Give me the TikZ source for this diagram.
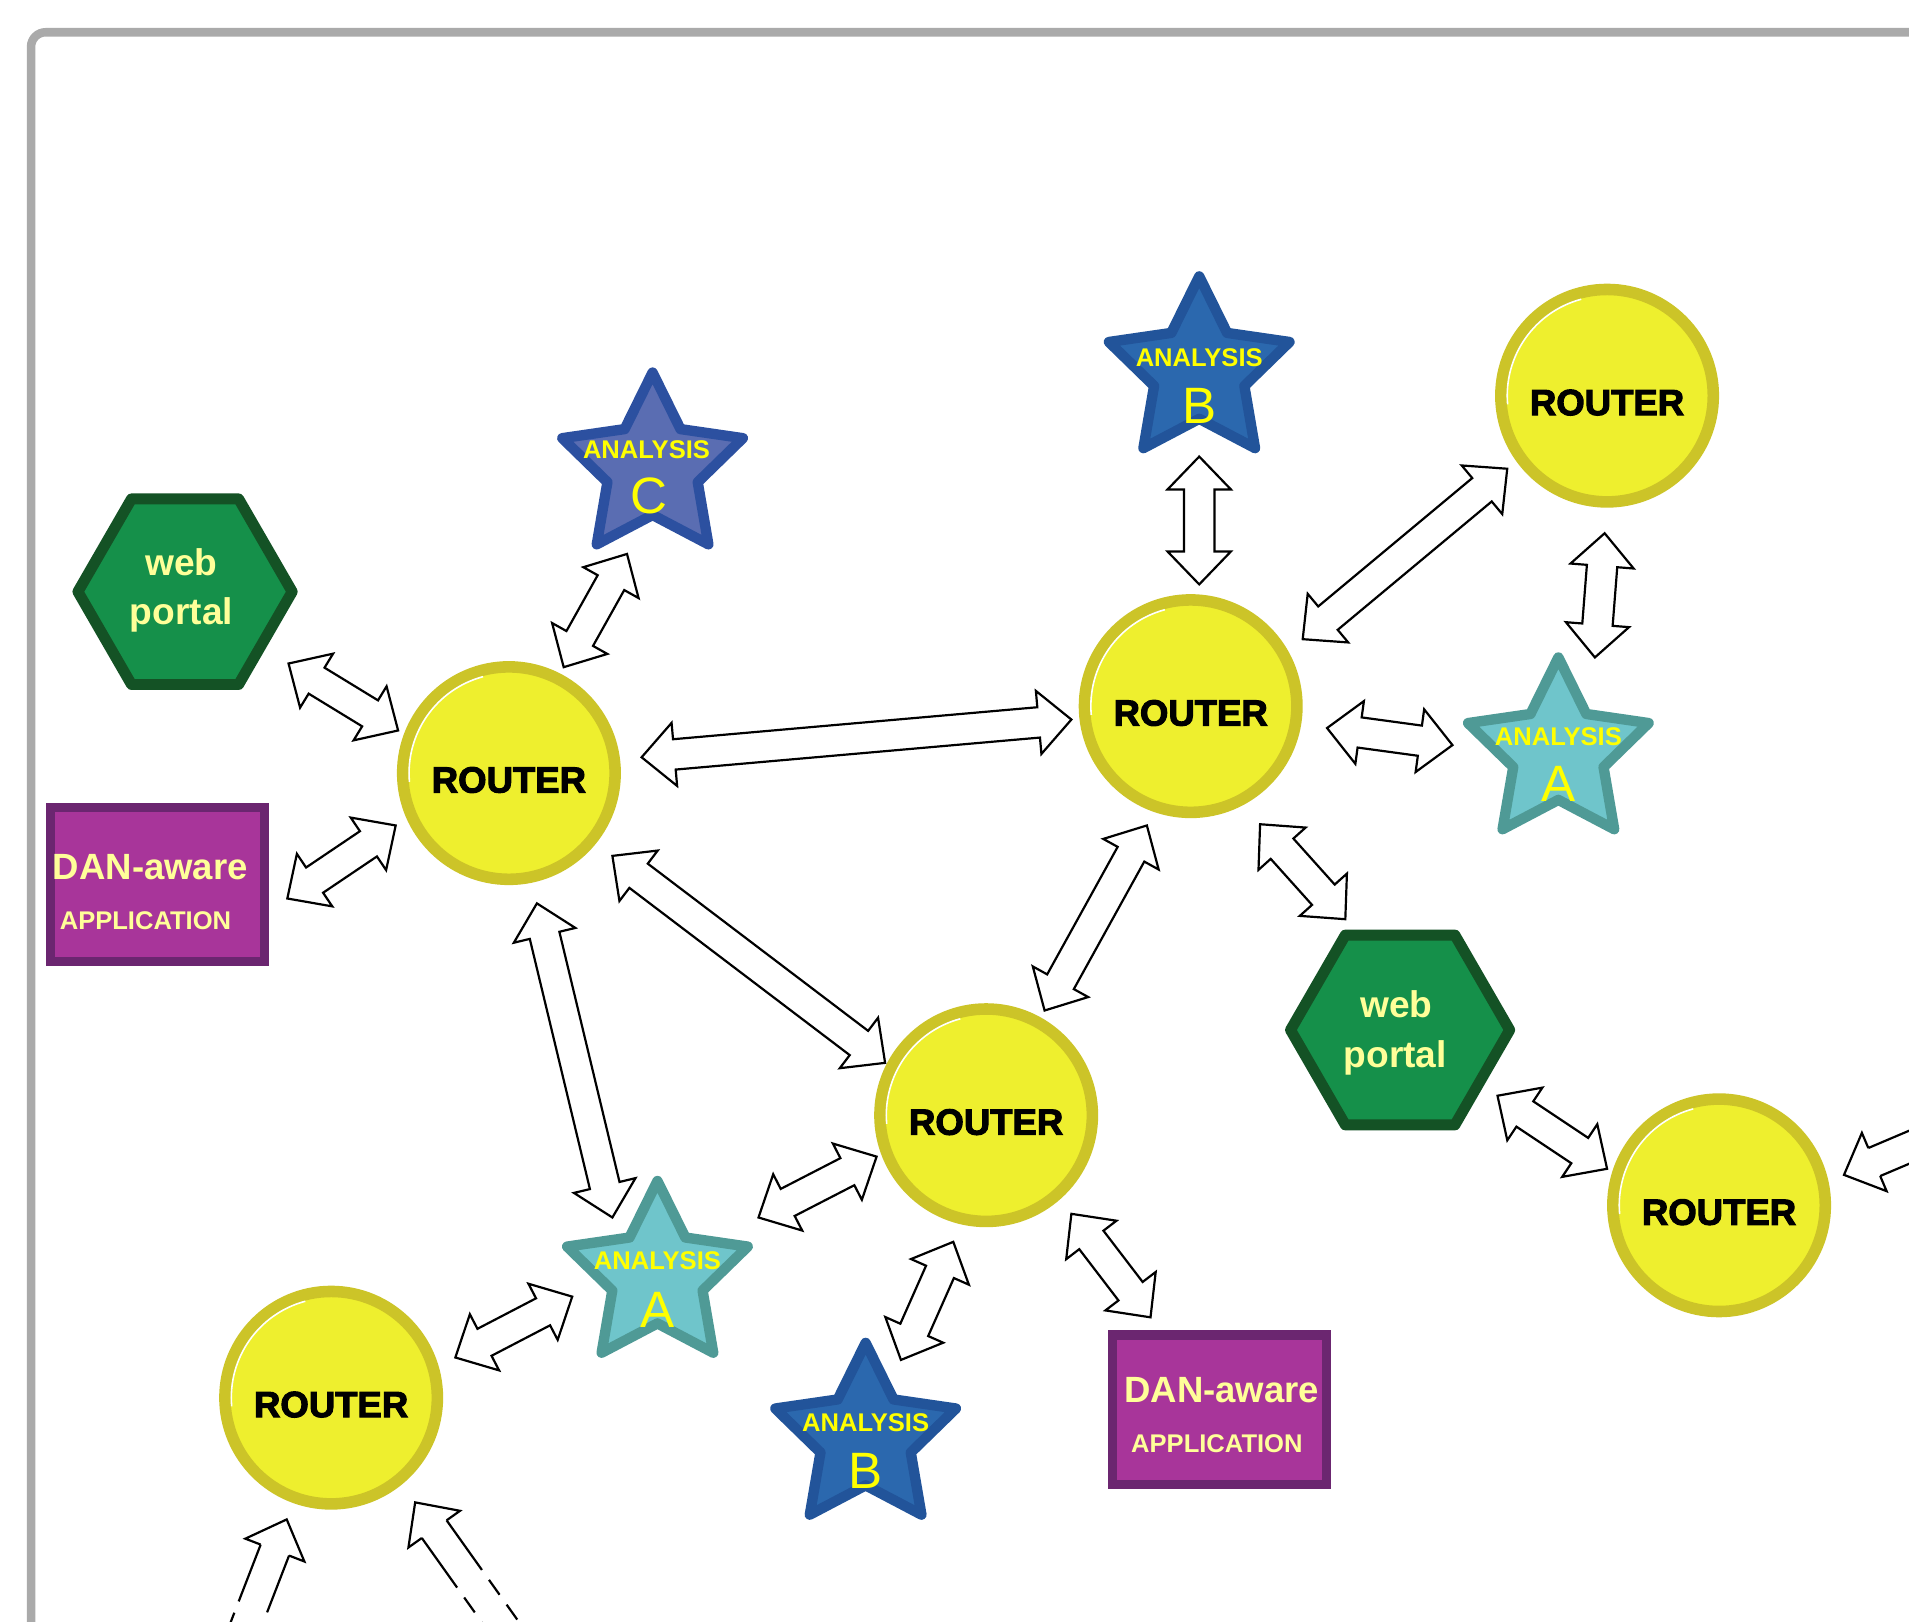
\documentclass[tikz,border=0pt]{standalone}
\usepackage{fontspec}
\setmainfont{Liberation Sans}
\newfontfamily\heavyfont{Liberation Sans}[FakeBold=2.8]
\usetikzlibrary{shapes.geometric,calc}
\definecolor{routerfill}{RGB}{238,239,46}
\definecolor{routerborder}{RGB}{204,196,40}
\definecolor{hexfill}{RGB}{21,144,74}
\definecolor{hexborder}{RGB}{20,82,37}
\definecolor{rectfill}{RGB}{168,53,154}
\definecolor{rectborder}{RGB}{107,38,112}
\definecolor{starCfill}{RGB}{90,109,178}
\definecolor{starCborder}{RGB}{44,80,160}
\definecolor{starBfill}{RGB}{43,104,174}
\definecolor{starBborder}{RGB}{34,84,154}
\definecolor{starAfill}{RGB}{111,197,203}
\definecolor{starAborder}{RGB}{79,154,150}
\definecolor{txtyellow}{RGB}{255,255,0}
\definecolor{txtpale}{RGB}{255,255,153}
\definecolor{framegray}{RGB}{170,170,170}

\newcommand\dblarrow[2]{%
  \coordinate (ha) at ($(#1)!27pt!(#2)$);
  \coordinate (hb) at ($(#2)!27pt!(#1)$);
  \draw[arrowline] (#1) -- ($(ha)!26pt!90:(#2)$) -- ($(ha)!12.5pt!90:(#2)$)
    -- ($(hb)!12.5pt!-90:(#1)$) -- ($(hb)!26pt!-90:(#1)$) -- (#2)
    -- ($(hb)!26pt!90:(#1)$) -- ($(hb)!12.5pt!90:(#1)$)
    -- ($(ha)!12.5pt!-90:(#2)$) -- ($(ha)!26pt!-90:(#2)$) -- cycle;}
\newcommand\sglarrow[3][]{%
  \coordinate (hb) at ($(#2)!27pt!(#3)$);
  \draw[arrowline] ($(hb)!12.5pt!90:(#3)$) -- ($(hb)!26pt!90:(#3)$) -- (#2)
    -- ($(hb)!26pt!-90:(#3)$) -- ($(hb)!12.5pt!-90:(#3)$);
  \draw[arrowline,#1] ($(hb)!12.5pt!90:(#3)$) -- ($(#3)!12.5pt!-90:(hb)$);
  \draw[arrowline,#1] ($(hb)!12.5pt!-90:(#3)$) -- ($(#3)!12.5pt!90:(hb)$);}

\begin{document}
\begin{tikzpicture}[x=1pt,y=-1pt,
  router/.style={circle, draw=routerborder, fill=routerfill, line width=9.5pt,
    minimum size=174.5pt, inner sep=0pt},
  rtext/.style={font=\fontsize{30}{30}\heavyfont\bfseries, anchor=base, inner sep=0pt},
  shine/.style={white, line width=1.3pt},
  hexnode/.style={regular polygon, regular polygon sides=6, draw=hexborder,
    fill=hexfill, line width=9pt, line join=round, minimum size=176pt, inner sep=0pt},
  hextext/.style={font=\fontsize{30.5}{30}\selectfont\bfseries, text=txtpale,
    anchor=base, inner sep=0pt},
  appnode/.style={rectangle, draw=rectborder, fill=rectfill, line width=7.5pt,
    minimum width=176pt, minimum height=126pt, inner sep=0pt},
  dantext/.style={font=\fontsize{30}{30}\selectfont\bfseries, text=txtpale,
    anchor=base, inner sep=0pt},
  apptext/.style={font=\fontsize{21}{21}\selectfont\bfseries, text=txtpale,
    anchor=base, inner sep=0pt},
  starnode/.style={star, star points=5, star point ratio=2, line width=8.5pt,
    line join=round, minimum size=156pt, inner sep=0pt},
  starA/.style={starnode, draw=starAborder, fill=starAfill},
  starB/.style={starnode, draw=starBborder, fill=starBfill},
  starC/.style={starnode, draw=starCborder, fill=starCfill},
  anatext/.style={font=\fontsize{21}{21}\selectfont\bfseries, text=txtyellow,
    anchor=base, inner sep=0pt},
  lettext/.style={font=\fontsize{42}{42}\selectfont, text=txtyellow,
    anchor=base, inner sep=0pt},
  arrowline/.style={draw=black, fill=white, line width=1.8pt},
  dashedshaft/.style={dash pattern=on 50pt off 10pt on 15pt off 10pt on 15pt off 10pt on 15pt off 10pt}
]
\clip (0,0) rectangle (1568,1332);
\fill[white] (0,0) rectangle (1568,1332);
\draw[framegray, line width=7pt, rounded corners=12pt] (25.5,1400) -- (25.5,26.5) -- (1650,26.5);

% routers
\node[router] (R1) at (418,635) {};
\node[router] (R2) at (978,580) {};
\node[router] (R3) at (1320,325) {};
\node[router] (R4) at (810,916) {};
\node[router] (R5) at (1412,990) {};
\node[router] (R6) at (272,1148) {};
\foreach \r in {R1,R2,R3,R4,R5,R6}{
  \node[rtext] (\r t) at ($(\r)+(0,16)$) {ROUTER};
  \draw[shine] ($(\r)+(-185:82)$) arc[start angle=-185, end angle=-105, radius=82];
}

% web portals
\node[hexnode] (hex1) at (152,486) {};
\node[hexnode, minimum size=180pt] (hex2) at (1150,846) {};
\node[hextext] (hex1a) at ($(hex1)+(-3,-13)$) {web};
\node[hextext] (hex1b) at ($(hex1)+(-3,27)$) {portal};
\node[hextext] (hex2a) at ($(hex2)+(-3,-10)$) {web};
\node[hextext] (hex2b) at ($(hex2)+(-4,31)$) {portal};

% applications
\node[appnode] (app1) at (129.5,726.5) {};
\node[appnode, minimum height=123pt] (app2) at (1001.5,1158) {};
\node[dantext] (app1a) at ($(app1)+(-6,-4)$) {DAN-aware};
\node[apptext] (app1b) at ($(app1)+(-10,37)$) {APPLICATION};
\node[dantext] (app2a) at ($(app2)+(2,-6)$) {DAN-aware};
\node[apptext] (app2b) at ($(app2)+(-2,35)$) {APPLICATION};

% analysis stars
\node[starC] (sC) at (536,384) {};
\node[starB] (sBt) at (985,305) {};
\node[starA] (sAr) at (1280,618) {};
\node[starA] (sAb) at (540,1048) {};
\node[starB] (sBb) at (711,1181) {};
\node[anatext] (sCa) at ($(sC)+(-5,-7)$) {ANALYSIS};
\node[lettext] (sCb) at ($(sC)+(-3,38)$) {C};
\node[anatext] (sBta) at ($(sBt)+(0,-4)$) {ANALYSIS};
\node[lettext] (sBtb) at ($(sBt)+(0,43)$) {B};
\node[anatext] (sAra) at ($(sAr)+(0,-6)$) {ANALYSIS};
\node[lettext] (sArb) at ($(sAr)+(0,40)$) {A};
\node[anatext] (sAba) at ($(sAb)+(0,-5)$) {ANALYSIS};
\node[lettext] (sAbb) at ($(sAb)+(0,42)$) {A};
\node[anatext] (sBba) at ($(sBb)+(0,-5)$) {ANALYSIS};
\node[lettext] (sBbb) at ($(sBb)+(0,42)$) {B};

% arrow end points
\coordinate (a1s) at ($(hex1)+(85,59)$);   \coordinate (a1e) at ($(R1)+(-91,-35)$);
\coordinate (a2s) at ($(app1)+(106.5,11.5)$); \coordinate (a2e) at ($(R1)+(-93,43)$);
\coordinate (a3s) at ($(R1)+(45,-87)$);    \coordinate (a3e) at ($(sC)+(-21,71)$);
\coordinate (a4s) at ($(R1)+(109,-13)$);   \coordinate (a4e) at ($(R2)+(-98,11)$);
\coordinate (a5s) at ($(R1)+(85,68)$);     \coordinate (a5e) at ($(R4)+(-83,-43)$);
\coordinate (a6s) at ($(R1)+(23,107)$);    \coordinate (a6e) at ($(sAb)+(-37,-48)$);
\coordinate (a7s) at ($(sAb)+(83,-48)$);   \coordinate (a7e) at ($(R4)+(-90,34)$);
\coordinate (a8s) at ($(R6)+(102,-33)$);   \coordinate (a8e) at ($(sAb)+(-70,17)$);
\coordinate (a9s) at ($(R4)+(-27,104)$);   \coordinate (a9e) at ($(sBb)+(29,-64)$);
\coordinate (a10s) at ($(R4)+(70,81)$);    \coordinate (a10e) at ($(app2)+(-56.5,-76)$);
\coordinate (a11s) at ($(sBt)+(0,70)$);    \coordinate (a11e) at ($(R2)+(7,-100)$);
\coordinate (a12s) at ($(R2)+(92,-55)$);   \coordinate (a12e) at ($(R3)+(-82,60)$);
\coordinate (a13s) at ($(R3)+(-2,113)$);   \coordinate (a13e) at ($(sAr)+(30,-78)$);
\coordinate (a14s) at ($(R2)+(112,18)$);   \coordinate (a14e) at ($(sAr)+(-87,-6)$);
\coordinate (a15s) at ($(R2)+(-36,98)$);   \coordinate (a15e) at ($(R4)+(48,-86)$);
\coordinate (a16s) at ($(R2)+(57,97)$);    \coordinate (a16e) at ($(hex2)+(-45,-91)$);
\coordinate (a17s) at ($(hex2)+(80,54)$);  \coordinate (a17e) at ($(R5)+(-92,-30)$);
\coordinate (a18t) at ($(R5)+(102.6,-25)$); \coordinate (a18f) at (1590,933);
\coordinate (a19t) at ($(R6)+(-36.5,100)$); \coordinate (a19f) at (198,1345);
\coordinate (a20t) at ($(R6)+(69,86)$);    \coordinate (a20f) at (420,1345);

\dblarrow{a1s}{a1e}
\dblarrow{a2s}{a2e}
\dblarrow{a3s}{a3e}
\dblarrow{a4s}{a4e}
\dblarrow{a5s}{a5e}
\dblarrow{a6s}{a6e}
\dblarrow{a7s}{a7e}
\dblarrow{a8s}{a8e}
\dblarrow{a9s}{a9e}
\dblarrow{a10s}{a10e}
\dblarrow{a11s}{a11e}
\dblarrow{a12s}{a12e}
\dblarrow{a13s}{a13e}
\dblarrow{a14s}{a14e}
\dblarrow{a15s}{a15e}
\dblarrow{a16s}{a16e}
\dblarrow{a17s}{a17e}
\sglarrow{a18t}{a18f}
\sglarrow[dashedshaft]{a19t}{a19f}
\sglarrow[dashedshaft]{a20t}{a20f}
\end{tikzpicture}
\end{document}
